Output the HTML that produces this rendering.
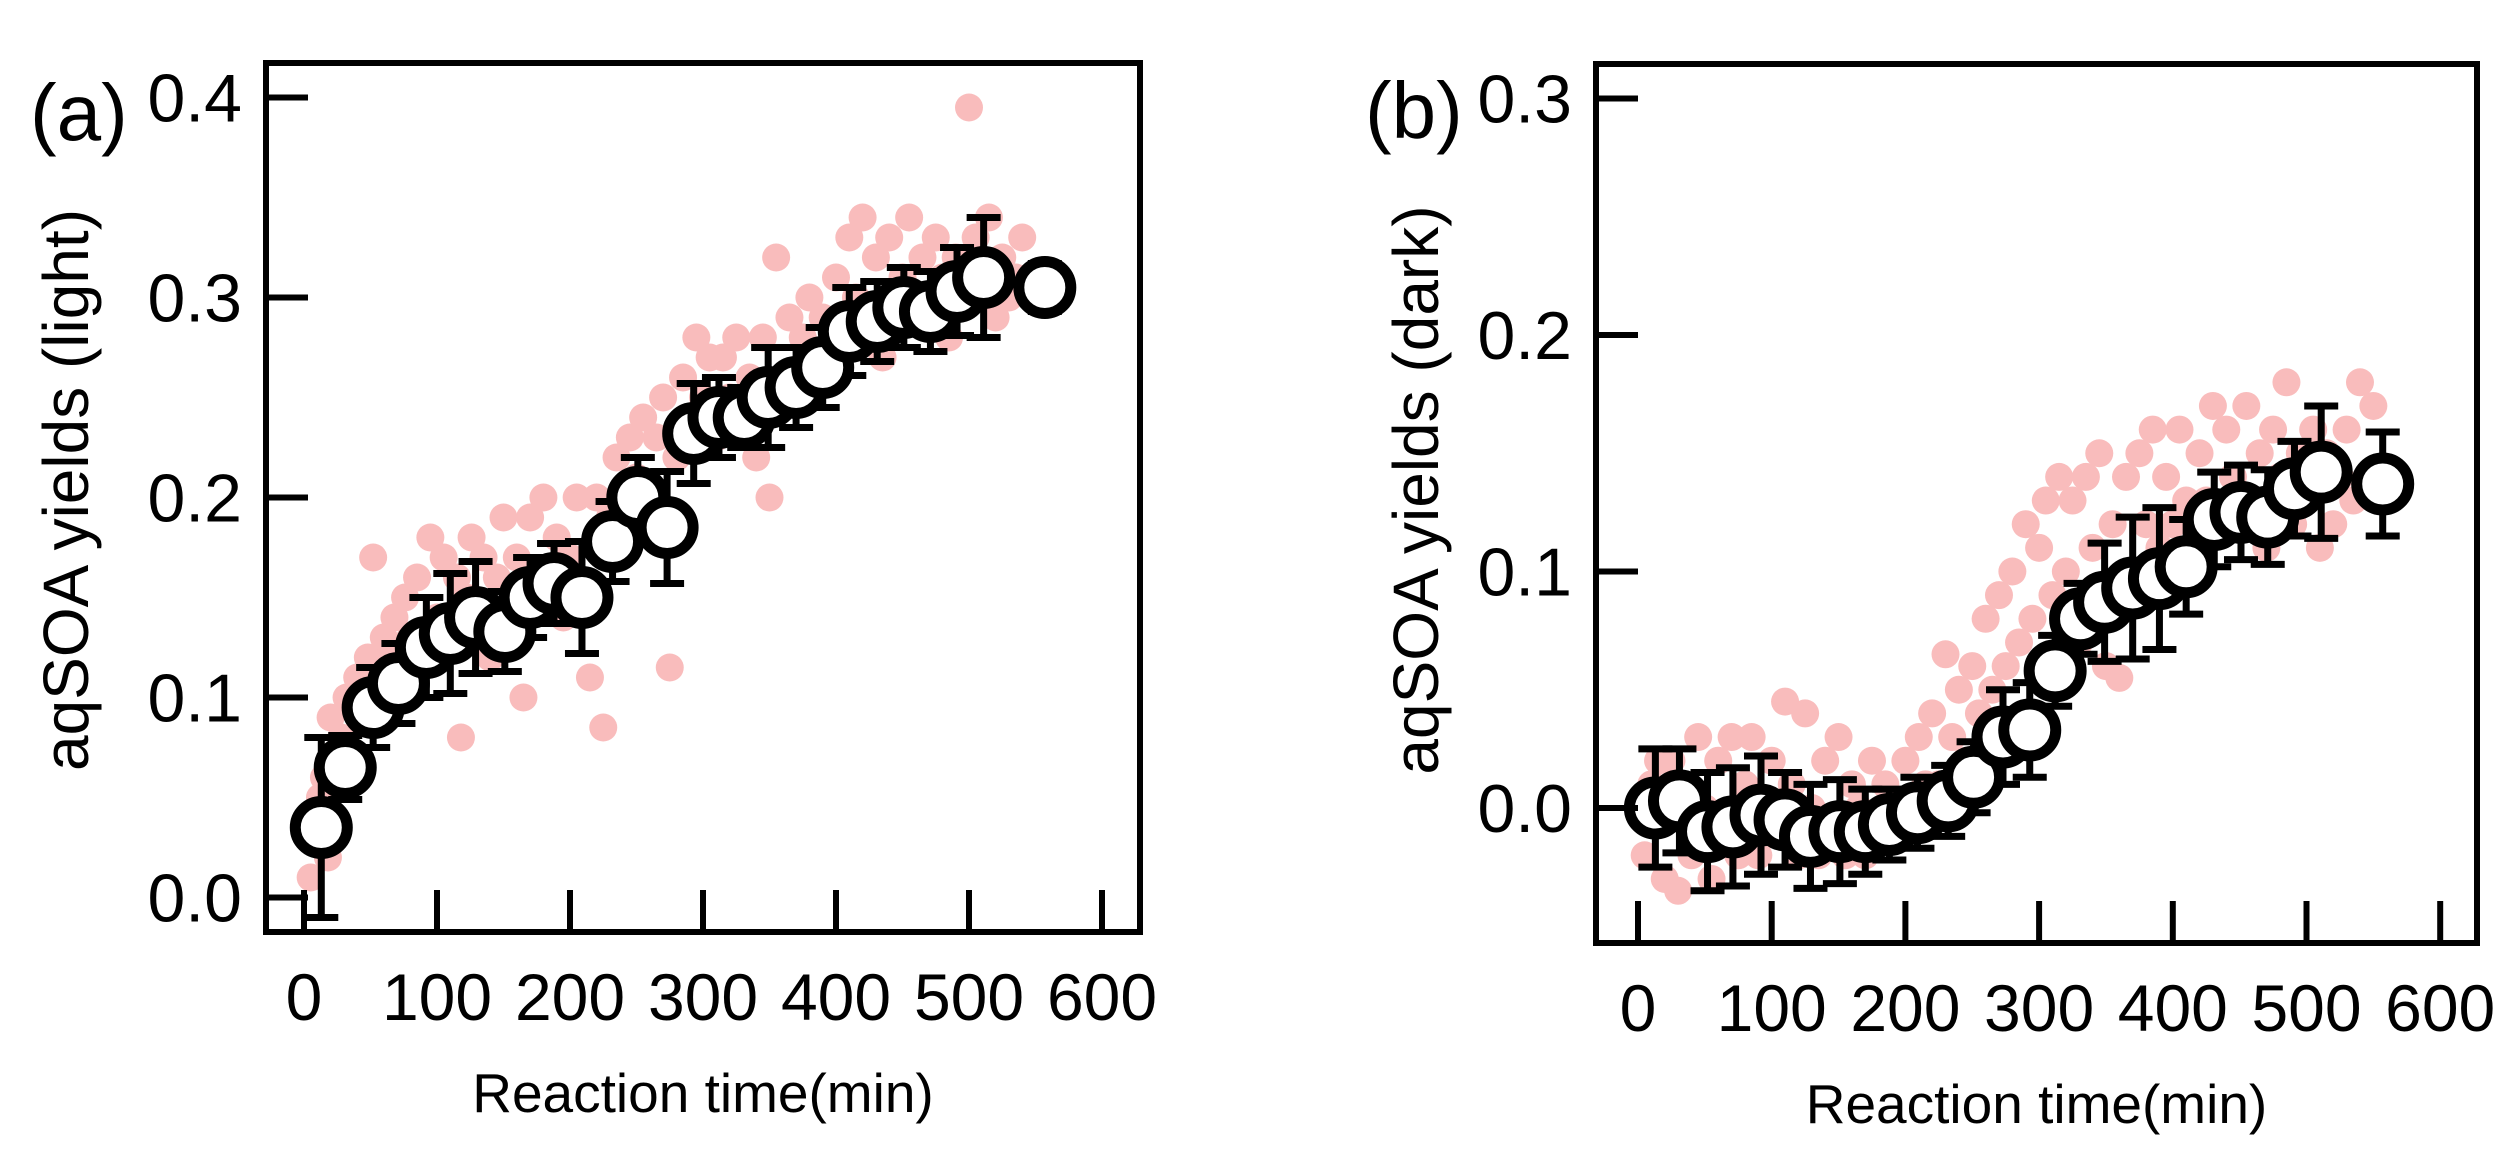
<!DOCTYPE html>
<html><head><meta charset="utf-8">
<style>
html,body{margin:0;padding:0;background:#fff;}
svg{display:block;font-family:"Liberation Sans",Arial,sans-serif;}
</style></head>
<body>
<svg id="fig" xmlns="http://www.w3.org/2000/svg" width="2518" height="1154" viewBox="0 0 2518 1154"></svg>
<script>
// ---- Panel (a) data ----
const timesA = [13,31,52,71,92,110,129,151,170,188,209,232,251,273,293,312,331,349,370,390,410,431,451,471,491,511,557];
const meanA = [0.035,0.065,0.095,0.107,0.125,0.132,0.14,0.133,0.15,0.157,0.15,0.178,0.2,0.185,0.232,0.24,0.24,0.25,0.255,0.265,0.283,0.288,0.295,0.293,0.303,0.31,0.305];
const errA = [0.045,0.016,0.02,0.02,0.025,0.03,0.028,0.02,0.02,0.02,0.028,0.02,0.02,0.028,0.025,0.02,0.015,0.025,0.02,0.02,0.022,0.02,0.02,0.02,0.022,0.03,0.012];
const rawTA = [5,8,12,15,18,20,24,28,32,36,40,44,48,52,55,60,64,68,72,76,80,85,90,95,100,105,110,115,118,122,126,130,135,140,145,150,155,160,165,170,175,180,185,190,195,200,205,210,215,220,225,230,235,240,245,250,255,260,265,270,275,280,285,290,295,300,305,310,315,320,325,330,335,340,345,350,355,360,365,370,375,380,385,390,395,400,405,410,415,420,425,430,435,440,445,450,455,460,465,470,475,480,485,490,495,500,505,510,515,520,525,530,535,540,545,550];
const rawYA = [0.01,0.03,0.05,0.06,0.02,0.09,0.07,0.08,0.1,0.06,0.11,0.09,0.12,0.17,0.1,0.13,0.12,0.14,0.11,0.15,0.13,0.16,0.12,0.18,0.14,0.17,0.13,0.16,0.08,0.15,0.18,0.14,0.17,0.12,0.16,0.19,0.14,0.17,0.1,0.19,0.15,0.2,0.16,0.18,0.14,0.17,0.2,0.15,0.11,0.2,0.085,0.19,0.22,0.18,0.23,0.21,0.24,0.2,0.23,0.25,0.115,0.22,0.26,0.24,0.28,0.25,0.27,0.23,0.27,0.25,0.28,0.24,0.26,0.22,0.28,0.2,0.32,0.26,0.29,0.25,0.28,0.3,0.26,0.29,0.27,0.31,0.28,0.33,0.3,0.34,0.29,0.32,0.27,0.33,0.3,0.31,0.34,0.29,0.32,0.3,0.33,0.31,0.28,0.32,0.3,0.395,0.33,0.3,0.34,0.29,0.32,0.3,0.31,0.33,0.31,0.3];
const yTicksA = [0.0,0.1,0.2,0.3,0.4];
const yTickLabelsA = ["0.0","0.1","0.2","0.3","0.4"];
// ---- Panel (b) data ----
const timesB = [13,31,52,71,92,110,129,151,170,188,209,232,251,273,293,312,331,349,370,390,410,431,451,471,491,511,557];
const meanB = [0.0,0.003,-0.01,-0.008,-0.003,-0.005,-0.012,-0.01,-0.01,-0.007,-0.002,0.003,0.013,0.03,0.033,0.058,0.08,0.087,0.093,0.097,0.102,0.122,0.125,0.123,0.135,0.142,0.137];
const errB = [0.025,0.022,0.025,0.025,0.025,0.02,0.022,0.022,0.018,0.015,0.015,0.015,0.015,0.02,0.02,0.015,0.015,0.025,0.03,0.03,0.02,0.02,0.02,0.02,0.02,0.028,0.022];
const rawTB = [5,10,15,20,25,30,35,40,45,50,55,60,65,70,75,80,85,90,95,100,105,110,115,120,125,130,135,140,145,150,155,160,165,170,175,180,185,190,195,200,205,210,215,220,225,230,235,240,245,250,255,260,265,270,275,280,285,290,295,300,305,310,315,320,325,330,335,340,345,350,355,360,365,370,375,380,385,390,395,400,405,410,415,420,425,430,435,440,445,450,455,460,465,470,475,480,485,490,495,500,505,510,515,520,525,530,535,540,545,550];
const rawYB = [-0.02,0.01,0.02,-0.03,0.02,-0.035,0.01,-0.02,0.03,0.0,-0.03,0.02,-0.01,0.03,-0.02,0.01,0.03,-0.02,0.0,0.02,-0.01,0.045,0.01,-0.02,0.04,0.0,-0.02,0.02,-0.01,0.03,-0.02,0.01,0.0,-0.02,0.02,-0.015,0.01,0.0,-0.01,0.02,0.0,0.03,0.01,0.04,0.01,0.065,0.03,0.05,0.02,0.06,0.04,0.08,0.05,0.09,0.06,0.1,0.07,0.12,0.08,0.11,0.13,0.09,0.14,0.1,0.13,0.07,0.14,0.11,0.15,0.06,0.12,0.055,0.14,0.1,0.15,0.12,0.16,0.11,0.14,0.12,0.16,0.13,0.11,0.15,0.13,0.17,0.12,0.16,0.14,0.12,0.17,0.13,0.15,0.11,0.16,0.14,0.18,0.12,0.15,0.13,0.16,0.11,0.15,0.12,0.14,0.16,0.13,0.18,0.14,0.17];
const yTicksB = [0.0,0.1,0.2,0.3];
const yTickLabelsB = ["0.0","0.1","0.2","0.3"];
const xTicks = [0,100,200,300,400,500,600];
const xTickLabels = ["0","100","200","300","400","500","600"];

const NS = "http://www.w3.org/2000/svg";
const svg = document.getElementById('fig');
function mk(tag, attrs, parent){const e=document.createElementNS(NS,tag);for(const k in attrs)e.setAttribute(k,attrs[k]);(parent||svg).appendChild(e);return e;}

function panel(cfg){
  const g = mk('g',{});
  
  
  const X = t => cfg.x0 + t/100*cfg.xs;
  const Y = v => cfg.y0 - v/0.1*cfg.ys;
  for(let i=0;i<cfg.rawT.length;i++){
    const c = mk('circle',{cx:X(cfg.rawT[i]),cy:Y(cfg.rawY[i]),r:14,fill:'#f9bcbc'},g);
    
    
  }
  for(let i=0;i<cfg.t.length;i++){
    const x=X(cfg.t[i]), y1=Y(cfg.m[i]-cfg.e[i]), y2=Y(cfg.m[i]+cfg.e[i]);
    const eb = mk('path',{d:`M${x},${y1}V${y2}M${x-17},${y1}H${x+17}M${x-17},${y2}H${x+17}`,stroke:'#000','stroke-width':7,fill:'none'},g);
    
    
  }
  for(let i=0;i<cfg.t.length;i++){
    const c = mk('circle',{cx:X(cfg.t[i]),cy:Y(cfg.m[i]),r:26,fill:'#fff',stroke:'#000','stroke-width':11},g);
    
    
  }
  const fr = mk('rect',{x:cfg.L,y:cfg.T,width:cfg.R-cfg.L,height:cfg.B-cfg.T,fill:'none',stroke:'#000','stroke-width':6},g);
  
  
  for(let i=0;i<xTicks.length;i++){
    const x=X(xTicks[i]);
    const tk = mk('line',{x1:x,x2:x,y1:cfg.B,y2:cfg.B-42,stroke:'#000','stroke-width':6},g);
    
    
    const tx = mk('text',{x:x,y:cfg.B+88,'font-size':66,'text-anchor':'middle'},g);
    tx.textContent = xTickLabels[i];
    
    
  }
  for(let i=0;i<cfg.yt.length;i++){
    const y=Y(cfg.yt[i]);
    const tk = mk('line',{x1:cfg.L,x2:cfg.L+42,y1:y,y2:y,stroke:'#000','stroke-width':6},g);
    
    
    const tx = mk('text',{x:cfg.L-24,y:y+24,'font-size':68,'text-anchor':'end'},g);
    tx.textContent = cfg.ytl[i];
    
    
  }
  const xt = mk('text',{x:(cfg.L+cfg.R)/2,y:cfg.B+180,'font-size':55,'text-anchor':'middle'},g);
  xt.textContent='Reaction time(min)';
  
  
  const yt = mk('text',{x:0,y:0,'font-size':64,'text-anchor':'middle',transform:`translate(${cfg.ylx},${cfg.yly}) rotate(-90)`},g);
  yt.textContent=cfg.ylabel;
  
  
  const pl = mk('text',{x:cfg.plx,y:cfg.ply,'font-size':80},g);
  pl.textContent=cfg.label;
  
  
}

panel({name:'panel-a-light',L:266,R:1140,T:63,B:932,x0:304,xs:133,y0:897.5,ys:200,
  t:timesA,m:meanA,e:errA,rawT:rawTA,rawY:rawYA,yt:yTicksA,ytl:yTickLabelsA,
  ylabel:'aqSOA yields (light)',ylx:88,yly:490,label:'(a)',plx:30,ply:140});
panel({name:'panel-b-dark',L:1596,R:2477,T:64,B:943,x0:1638,xs:133.7,y0:808,ys:236.5,
  t:timesB,m:meanB,e:errB,rawT:rawTB,rawY:rawYB,yt:yTicksB,ytl:yTickLabelsB,
  ylabel:'aqSOA yields (dark)',ylx:1438,yly:490,label:'(b)',plx:1365,ply:138});
</script>
</body></html>
